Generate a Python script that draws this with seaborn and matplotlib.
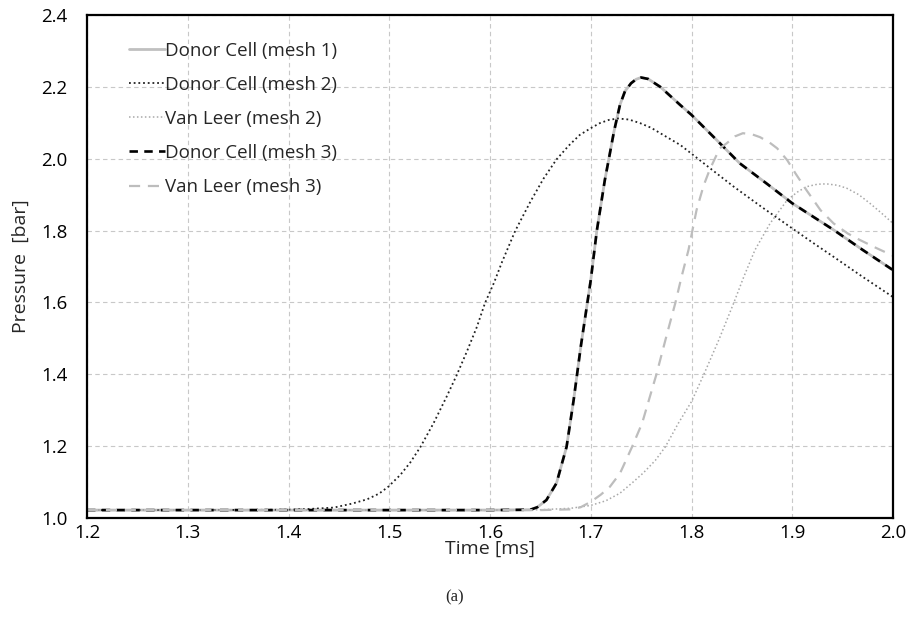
import numpy as np
import pandas as pd
import matplotlib
matplotlib.use("Agg")
import matplotlib.pyplot as plt
from matplotlib.ticker import MultipleLocator, FormatStrFormatter
import seaborn as sns

# ---- data ----
labels = ["Donor Cell (mesh 1)", "Donor Cell (mesh 2)", "Van Leer (mesh 2)",
          "Donor Cell (mesh 3)", "Van Leer (mesh 3)"]

t_dc1 = [1.200, 1.300, 1.400, 1.500, 1.600, 1.640, 1.647, 1.656, 1.666, 1.676, 1.683, 1.690,
         1.700, 1.706, 1.714, 1.718, 1.723, 1.729, 1.734, 1.740, 1.745, 1.750, 1.757, 1.769,
         1.789, 1.800, 1.825, 1.848, 1.875, 1.900, 1.941, 1.970, 2.000]
p_dc1 = [1.022, 1.022, 1.022, 1.022, 1.022, 1.023, 1.030, 1.050, 1.097, 1.198, 1.328, 1.475,
         1.662, 1.799, 1.941, 2.000, 2.075, 2.150, 2.188, 2.210, 2.221, 2.226, 2.222, 2.200,
         2.149, 2.122, 2.052, 1.987, 1.930, 1.876, 1.802, 1.746, 1.690]

t_dc2 = [1.200, 1.300, 1.400, 1.420, 1.445, 1.463, 1.478, 1.490, 1.499, 1.511, 1.521, 1.531,
         1.544, 1.557, 1.567, 1.577, 1.587, 1.595, 1.604, 1.612, 1.625, 1.640, 1.653, 1.666,
         1.678, 1.689, 1.700, 1.709, 1.718, 1.727, 1.738, 1.749, 1.760, 1.769, 1.789, 1.800,
         1.820, 1.842, 1.870, 1.900, 1.920, 1.941, 1.970, 2.000]
p_dc2 = [1.022, 1.022, 1.023, 1.025, 1.029, 1.040, 1.052, 1.068, 1.087, 1.120, 1.155, 1.198,
         1.264, 1.338, 1.398, 1.463, 1.532, 1.598, 1.655, 1.713, 1.799, 1.880, 1.944, 1.998,
         2.036, 2.066, 2.085, 2.099, 2.108, 2.112, 2.109, 2.099, 2.086, 2.071, 2.038, 2.014,
         1.970, 1.922, 1.865, 1.806, 1.767, 1.727, 1.671, 1.615]

t_vl2 = [1.200, 1.300, 1.400, 1.500, 1.600, 1.650, 1.680, 1.700, 1.715, 1.729, 1.742, 1.752,
         1.764, 1.774, 1.787, 1.800, 1.812, 1.827, 1.842, 1.852, 1.863, 1.878, 1.895, 1.905,
         1.914, 1.925, 1.934, 1.945, 1.954, 1.966, 1.977, 1.988, 2.000]
p_vl2 = [1.022, 1.022, 1.022, 1.022, 1.022, 1.023, 1.027, 1.035, 1.048, 1.069, 1.100, 1.125,
         1.160, 1.198, 1.264, 1.324, 1.398, 1.495, 1.599, 1.672, 1.746, 1.820, 1.885, 1.907,
         1.922, 1.929, 1.930, 1.926, 1.918, 1.900, 1.876, 1.850, 1.820]

t_dc3 = list(t_dc1)
p_dc3 = [1.022, 1.022, 1.022, 1.022, 1.022, 1.023, 1.030, 1.050, 1.097, 1.198, 1.328, 1.475,
         1.662, 1.799, 1.941, 2.000, 2.075, 2.150, 2.188, 2.210, 2.221, 2.226, 2.222, 2.200,
         2.149, 2.122, 2.052, 1.987, 1.930, 1.876, 1.802, 1.746, 1.690]

t_vl3 = [1.200, 1.300, 1.400, 1.500, 1.600, 1.650, 1.680, 1.690, 1.700, 1.710, 1.719, 1.729,
         1.741, 1.751, 1.765, 1.775, 1.784, 1.790, 1.797, 1.805, 1.812, 1.818, 1.828, 1.835,
         1.843, 1.851, 1.860, 1.868, 1.877, 1.885, 1.895, 1.903, 1.914, 1.928, 1.941, 1.955,
         1.967, 1.983, 2.000]
p_vl3 = [1.022, 1.022, 1.022, 1.022, 1.022, 1.022, 1.024, 1.030, 1.045, 1.065, 1.087, 1.124,
         1.198, 1.264, 1.398, 1.505, 1.599, 1.670, 1.746, 1.857, 1.925, 1.969, 2.029, 2.043,
         2.062, 2.071, 2.068, 2.060, 2.046, 2.029, 1.996, 1.960, 1.913, 1.857, 1.820, 1.792,
         1.774, 1.752, 1.730]

series = [(t_dc1, p_dc1), (t_dc2, p_dc2), (t_vl2, p_vl2), (t_dc3, p_dc3), (t_vl3, p_vl3)]
styles = [
    dict(color="#c0c0c0", linestyle="-", linewidth=2.0),
    dict(color="#222222", linestyle=(0, (1, 1.6)), linewidth=1.3),
    dict(color="#a8a8a8", linestyle=(0, (1, 1.6)), linewidth=1.1),
    dict(color="#000000", linestyle=(0, (3.2, 2.4)), linewidth=1.9),
    dict(color="#bdbdbd", linestyle=(0, (5, 3.5)), linewidth=1.6),
]

sns.set_style("white")
plt.rcParams["font.family"] = ["Open Sans", "DejaVu Sans"]

fig = plt.figure(figsize=(9.1, 6.4), dpi=100)
ax = fig.add_axes([87 / 910, 1 - 518 / 640, (893 - 87) / 910, (518 - 15) / 640])

for (t, p), lab, st in zip(series, labels, styles):
    df = pd.DataFrame({"Time": t, "Pressure": p})
    sns.lineplot(data=df, x="Time", y="Pressure", ax=ax, label=lab, sort=False,
                 estimator=None, **st)

ax.set_xlim(1.2, 2.0)
ax.set_ylim(1.0, 2.4)
ax.xaxis.set_major_locator(MultipleLocator(0.1))
ax.xaxis.set_minor_locator(MultipleLocator(0.02))
ax.yaxis.set_major_locator(MultipleLocator(0.2))
ax.yaxis.set_minor_locator(MultipleLocator(0.04))
ax.xaxis.set_major_formatter(FormatStrFormatter("%.1f"))
ax.yaxis.set_major_formatter(FormatStrFormatter("%.1f"))

ax.grid(True, which="major", color="#c8c8c8", linestyle=(0, (4, 3)), linewidth=0.8)
ax.set_axisbelow(True)
for s in ax.spines.values():
    s.set_color("black")
    s.set_linewidth(1.6)

ax.tick_params(which="both", direction="in", top=False, right=False, colors="black",
               labelsize=13.5, width=1.2)
ax.tick_params(which="major", length=6)
ax.tick_params(which="minor", length=4)
ax.tick_params(axis="y", which="major", pad=14)
ax.tick_params(axis="x", which="major", pad=4)

ax.set_xlabel("Time [ms]", fontsize=14, labelpad=-1)
ax.set_ylabel("Pressure  [bar]", fontsize=14, labelpad=8)

leg = ax.legend(loc="upper left", frameon=False, fontsize=13.5, handlelength=1.9,
                handletextpad=0.0, labelspacing=0.86, bbox_to_anchor=(0.043, 0.962),
                borderaxespad=0)

fig.text(0.5, 1 - 597 / 640, "(a)", ha="center", va="center", fontsize=12,
         family=["Liberation Serif", "DejaVu Serif"])

fig.savefig("out.png", dpi=100)
